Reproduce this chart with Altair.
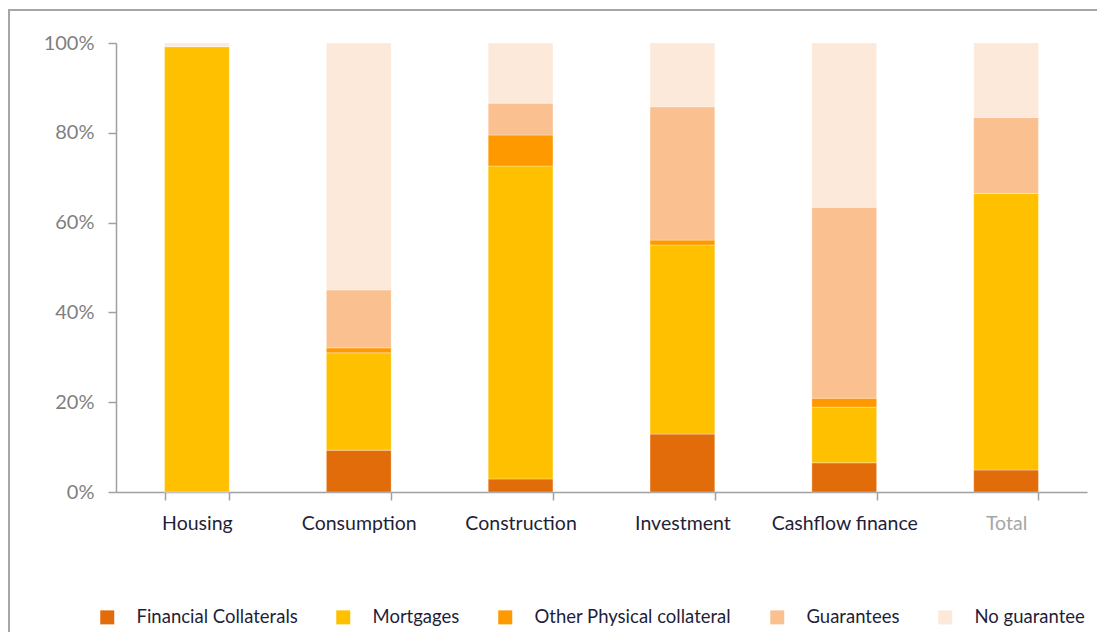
import altair as alt
import pandas as pd

categories = ["Housing", "Consumption", "Construction", "Investment", "Cashflow finance", "Total"]
series = ["Financial Collaterals", "Mortgages", "Other Physical collateral", "Guarantees", "No guarantee"]
colors = ["#E36C0A", "#FFC000", "#FF9900", "#FAC090", "#FDE9D9"]

financial = [0.0, 9.3, 2.9, 12.9, 6.5, 4.9]
mortgages = [99.2, 21.7, 69.7, 42.1, 12.4, 61.6]
other_physical = [0.0, 1.1, 6.9, 1.1, 2.0, 0.0]
guarantees = [0.0, 12.9, 7.1, 29.7, 42.5, 16.9]
no_guarantee = [0.8, 55.0, 13.4, 14.2, 36.6, 16.6]

values = [financial, mortgages, other_physical, guarantees, no_guarantee]
rows = []
for si, (s, vals) in enumerate(zip(series, values)):
    for c, v in zip(categories, vals):
        rows.append({"category": c, "series": s, "value": v / 100.0, "idx": si})
df = pd.DataFrame(rows)

FONT = "Lato"
AXIS_GRAY = "#a0a0a0"

bars = alt.Chart(df).mark_bar(stroke="#ffffff", strokeWidth=0.5, strokeOpacity=0.6).encode(
    x=alt.X(
        "category:N",
        sort=categories,
        scale=alt.Scale(paddingInner=0.6, paddingOuter=0.3),
        axis=alt.Axis(
            title=None,
            labelAngle=0,
            tickBand="extent",
            tickSize=8,
            tickColor=AXIS_GRAY,
            tickWidth=1.5,
            domainColor=AXIS_GRAY,
            domainWidth=1.5,
            labelFont=FONT,
            labelFontSize=19.5,
            labelPadding=14,
            labelColor=alt.expr("datum.value == 'Total' ? '#a6a6a6' : '#1f1f3a'"),
            labelLimit=300,
        ),
    ),
    y=alt.Y(
        "value:Q",
        stack="zero",
        scale=alt.Scale(domain=[0, 1], nice=False),
        axis=alt.Axis(
            title=None,
            format=".0%",
            values=[0, 0.2, 0.4, 0.6, 0.8, 1.0],
            grid=False,
            tickSize=8,
            tickColor=AXIS_GRAY,
            tickWidth=1.5,
            domainColor=AXIS_GRAY,
            domainWidth=1.5,
            labelFont=FONT,
            labelFontSize=20,
            labelColor="#7f7f7f",
            labelPadding=14,
        ),
    ),
    color=alt.Color(
        "series:N",
        sort=series,
        scale=alt.Scale(domain=series, range=colors),
        legend=alt.Legend(
            title=None,
            orient="none",
            legendX=-18,
            legendY=565,
            direction="horizontal",
            columns=5,
            symbolType="square",
            symbolSize=196,
            symbolStrokeWidth=0,
            labelOffset=20,
            labelFont=FONT,
            labelFontSize=18.5,
            labelColor="#1f1f3a",
            columnPadding=36,
            labelLimit=300,
        ),
    ),
    order=alt.Order("idx:Q", sort="ascending"),
)

frame = alt.Chart(pd.DataFrame({"a": [0]})).mark_rect(
    fill="transparent", stroke="#a6a6a6", strokeWidth=2
).encode(
    x=alt.value(-107),
    x2=alt.value(1200),
    y=alt.value(-33),
    y2=alt.value(800),
)

chart = alt.layer(frame, bars).properties(
    width=971,
    height=449,
    autosize=alt.AutoSizeParams(type="none"),
    padding={"left": 108, "top": 35, "right": 10, "bottom": 140},
).configure_view(strokeWidth=0)

chart.save("out.html", embed_options={"renderer": "svg", "actions": False})
